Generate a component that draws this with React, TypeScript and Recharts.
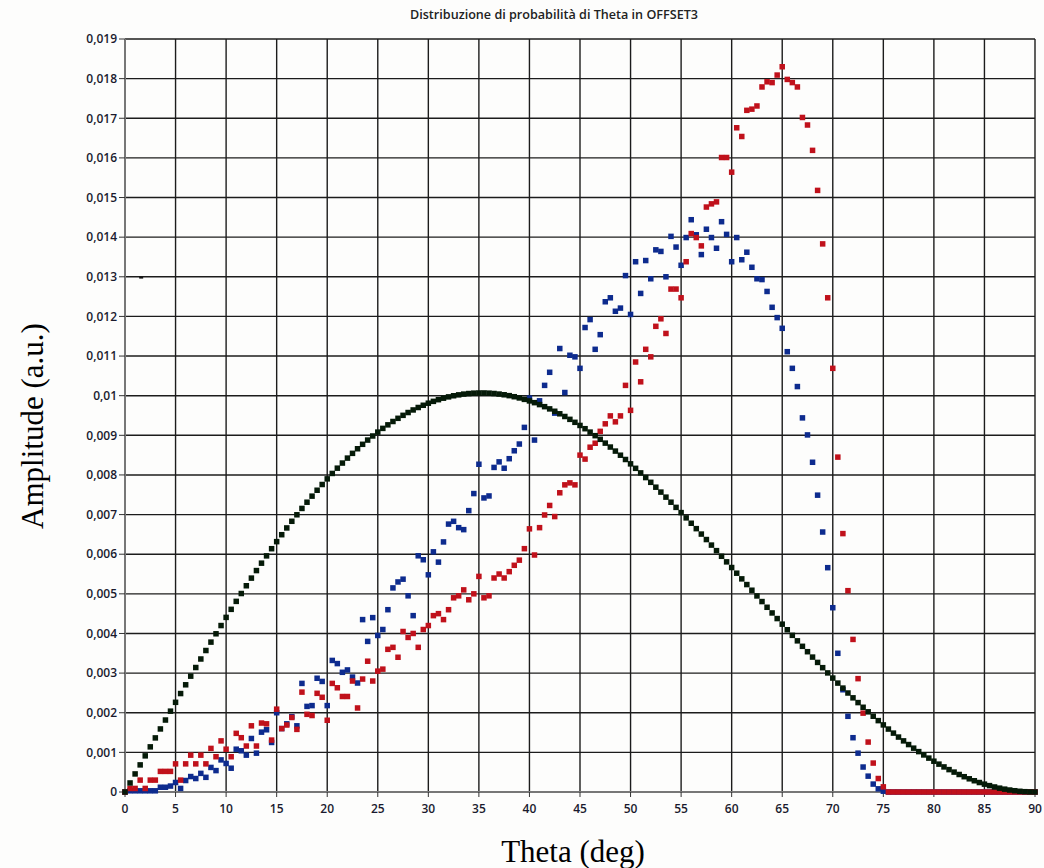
import { ScatterChart, Scatter, XAxis, YAxis, CartesianGrid } from 'recharts';

// angle grid of the measurement (deg)
const theta = [
  0, 0.5, 1, 1.5, 2, 2.5, 3, 3.5, 4, 4.5,
  5, 5.5, 6, 6.5, 7, 7.5, 8, 8.5, 9, 9.5,
  10, 10.5, 11, 11.5, 12, 12.5, 13, 13.5, 14, 14.5,
  15, 15.5, 16, 16.5, 17, 17.5, 18, 18.5, 19, 19.5,
  20, 20.5, 21, 21.5, 22, 22.5, 23, 23.5, 24, 24.5,
  25, 25.5, 26, 26.5, 27, 27.5, 28, 28.5, 29, 29.5,
  30, 30.5, 31, 31.5, 32, 32.5, 33, 33.5, 34, 34.5,
  35, 35.5, 36, 36.5, 37, 37.5, 38, 38.5, 39, 39.5,
  40, 40.5, 41, 41.5, 42, 42.5, 43, 43.5, 44, 44.5,
  45, 45.5, 46, 46.5, 47, 47.5, 48, 48.5, 49, 49.5,
  50, 50.5, 51, 51.5, 52, 52.5, 53, 53.5, 54, 54.5,
  55, 55.5, 56, 56.5, 57, 57.5, 58, 58.5, 59, 59.5,
  60, 60.5, 61, 61.5, 62, 62.5, 63, 63.5, 64, 64.5,
  65, 65.5, 66, 66.5, 67, 67.5, 68, 68.5, 69, 69.5,
  70, 70.5, 71, 71.5, 72, 72.5, 73, 73.5, 74, 74.5,
  75, 75.5, 76, 76.5, 77, 77.5, 78, 78.5, 79, 79.5,
  80, 80.5, 81, 81.5, 82, 82.5, 83, 83.5, 84, 84.5,
  85, 85.5, 86, 86.5, 87, 87.5, 88, 88.5, 89, 89.5,
  90,
];

// black: theoretical curve
const blackAmp = [
  0, 0.000228, 0.000456, 0.000684, 0.000912, 0.001139, 0.001365, 0.001591, 0.001816, 0.00204,
  0.002263, 0.002484, 0.002705, 0.002923, 0.003141, 0.003356, 0.00357, 0.003782, 0.003992, 0.0042,
  0.004406, 0.004609, 0.00481, 0.005008, 0.005204, 0.005397, 0.005587, 0.005774, 0.005958, 0.006139,
  0.006317, 0.006492, 0.006663, 0.006831, 0.006995, 0.007155, 0.007312, 0.007465, 0.007614, 0.007759,
  0.007901, 0.008038, 0.008171, 0.0083, 0.008425, 0.008545, 0.008661, 0.008773, 0.00888, 0.008983,
  0.009081, 0.009175, 0.009264, 0.009349, 0.009429, 0.009504, 0.009575, 0.00964, 0.009702, 0.009758,
  0.00981, 0.009857, 0.009899, 0.009937, 0.00997, 0.009998, 0.010021, 0.01004, 0.010054, 0.010064,
  0.010068, 0.010069, 0.010064, 0.010055, 0.010041, 0.010023, 0.010001, 0.009974, 0.009943, 0.009907,
  0.009868, 0.009824, 0.009775, 0.009723, 0.009667, 0.009607, 0.009543, 0.009475, 0.009403, 0.009328,
  0.009249, 0.009167, 0.009081, 0.008991, 0.008899, 0.008803, 0.008704, 0.008602, 0.008498, 0.00839,
  0.00828, 0.008167, 0.008052, 0.007934, 0.007814, 0.007691, 0.007567, 0.00744, 0.007312, 0.007182,
  0.00705, 0.006917, 0.006781, 0.006645, 0.006508, 0.00637, 0.00623, 0.00609, 0.005948, 0.005807,
  0.005664, 0.005521, 0.005378, 0.005234, 0.005091, 0.004947, 0.004805, 0.004661, 0.004518, 0.004376,
  0.004235, 0.004094, 0.003953, 0.003814, 0.003676, 0.00354, 0.003404, 0.00327, 0.003137, 0.003005,
  0.002875, 0.002748, 0.002622, 0.002498, 0.002376, 0.002256, 0.002138, 0.002023, 0.001911, 0.001801,
  0.001693, 0.001588, 0.001486, 0.001386, 0.00129, 0.001197, 0.001106, 0.001019, 0.000935, 0.000855,
  0.000777, 0.000703, 0.000633, 0.000565, 0.000502, 0.000442, 0.000386, 0.000333, 0.000284, 0.000239,
  0.000198, 0.000161, 0.000127, 0.000097, 0.000072, 0.00005, 0.000032, 0.000018, 0.000008, 0.000002,
  0,
];

// blue: measured
const blueAmp = [
  0, 0.00003, 0.00003, 0.00003, 0.00003, 0.00003, 0.00003, 0.00012, 0.00012, 0.00015,
  0.00024, 0.00009, 0.00029, 0.00039, 0.00034, 0.00047, 0.00037, 0.00062, 0.00054, 0.00081,
  0.00072, 0.0006, 0.00108, 0.00104, 0.00093, 0.00135, 0.00098, 0.00151, 0.00157, 0.00125,
  0.002, 0.0016, 0.00172, 0.0019, 0.00167, 0.00274, 0.00216, 0.00218, 0.00287, 0.00279,
  0.00218, 0.00332, 0.00324, 0.00302, 0.00308, 0.0029, 0.00275, 0.00435, 0.0038, 0.0044,
  0.00395, 0.0041, 0.0046, 0.00515, 0.0053, 0.00537, 0.00495, 0.00445, 0.00596, 0.00586,
  0.00548, 0.00606, 0.0058, 0.00631, 0.00676, 0.00683, 0.00667, 0.00662, 0.0071, 0.00753,
  0.00827, 0.00742, 0.00747, 0.00819, 0.00833, 0.00817, 0.00841, 0.00861, 0.00878, 0.0092,
  0.00994, 0.00888, 0.00987, 0.01026, 0.01059, 0.00956, 0.01119, 0.01008, 0.01102, 0.01098,
  0.01069, 0.01172, 0.01192, 0.01117, 0.01154, 0.01237, 0.01247, 0.01213, 0.01221, 0.01303,
  0.01205, 0.01338, 0.01258, 0.01341, 0.01295, 0.01368, 0.01364, 0.013, 0.01402, 0.01375,
  0.01329, 0.01399, 0.01444, 0.01406, 0.01356, 0.0142, 0.01399, 0.01372, 0.01439, 0.01407,
  0.01338, 0.01399, 0.01343, 0.01362, 0.01324, 0.01295, 0.01293, 0.01263, 0.01223, 0.01197,
  0.0117, 0.01111, 0.01069, 0.01023, 0.00944, 0.00901, 0.00832, 0.00749, 0.00656, 0.00566,
  0.00465, 0.0035, 0.00258, 0.00191, 0.00137, 0.00098, 0.00063, 0.0004, 0.0002, 0.00008,
  0.00002, 0, 0, 0, 0, 0, 0, 0, 0, 0,
  0, 0, 0, 0, 0, 0, 0, 0, 0, 0,
  0, 0, 0, 0, 0, 0, 0, 0, 0, 0,
  0,
];

// red: measured
const redAmp = [
  0, 0.00009, 0.00009, 0.0003, 0.00009, 0.0003, 0.0003, 0.00052, 0.00052, 0.00052,
  0.00071, 0.0003, 0.00071, 0.00093, 0.00071, 0.00093, 0.00071, 0.0011, 0.00089, 0.00129,
  0.00108, 0.00089, 0.00148, 0.00137, 0.00116, 0.00167, 0.00116, 0.00174, 0.00172, 0.00131,
  0.00209, 0.0016, 0.00169, 0.00188, 0.00158, 0.00252, 0.00196, 0.00193, 0.00249, 0.00239,
  0.00181, 0.00274, 0.00263, 0.00241, 0.00241, 0.0028, 0.00212, 0.00285, 0.0033, 0.0028,
  0.00305, 0.0031, 0.0036, 0.00365, 0.0034, 0.00405, 0.0039, 0.004, 0.00365, 0.0041,
  0.0042, 0.00445, 0.0045, 0.00435, 0.0046, 0.0049, 0.00495, 0.0051, 0.00485, 0.005,
  0.00544, 0.0049, 0.00495, 0.0054, 0.0055, 0.0054, 0.00556, 0.00572, 0.00585, 0.00614,
  0.00664, 0.00598, 0.00667, 0.00699, 0.00723, 0.00695, 0.00755, 0.00775, 0.0078, 0.00775,
  0.0085, 0.0084, 0.0087, 0.0088, 0.0091, 0.00929, 0.00949, 0.00934, 0.00949, 0.01026,
  0.00963, 0.01085, 0.01035, 0.01117, 0.01098, 0.01175, 0.01194, 0.01157, 0.01269, 0.01269,
  0.01247, 0.01338, 0.01409, 0.01399, 0.01378, 0.01476, 0.01484, 0.01489, 0.01601, 0.01601,
  0.01564, 0.01676, 0.01654, 0.0172, 0.01723, 0.01731, 0.01779, 0.01792, 0.0179, 0.01809,
  0.0183, 0.01798, 0.0179, 0.01779, 0.01702, 0.01683, 0.01619, 0.01518, 0.01383, 0.01247,
  0.01069, 0.00845, 0.00652, 0.00508, 0.00385, 0.00286, 0.00199, 0.00126, 0.00073, 0.00034,
  0.00013, 0, 0, 0, 0, 0, 0, 0, 0, 0,
  0, 0, 0, 0, 0, 0, 0, 0, 0, 0,
  0, 0, 0, 0, 0, 0, 0, 0, 0, 0,
  0,
];

// stray mark left of the plot near 0,013
const strayTheta = [1.6];
const strayAmp = [0.01298];

const thetaTicks = [0, 5, 10, 15, 20, 25, 30, 35, 40, 45, 50, 55, 60, 65, 70, 75, 80, 85, 90];
const ampTicks = [
  0, 0.001, 0.002, 0.003, 0.004, 0.005, 0.006, 0.007, 0.008, 0.009, 0.01,
  0.011, 0.012, 0.013, 0.014, 0.015, 0.016, 0.017, 0.018, 0.019,
];

const toPoints = (xs: number[], ys: number[]) => xs.map((x, i) => ({ x, y: ys[i] }));

const square = (color: string, w = 5.5, h = 5.5) => (props: any) => {
  const { cx, cy } = props;
  if (cx == null || cy == null) return <g />;
  return <rect x={cx - w / 2} y={cy - h / 2} width={w} height={h} fill={color} />;
};

const fmtAmp = (v: number) => (v === 0 ? '0' : String(+v.toFixed(3)).replace('.', ','));

const tickFont = { fontFamily: '"Open Sans", "Noto Sans", sans-serif', fontSize: 12, fontWeight: 600, fill: '#1a1a2e' };

export default function App() {
  return (
    <div style={{ position: 'absolute', left: 0, top: 0, width: 1044, height: 868, background: '#fdfdfc' }}>
      <div
        style={{
          position: 'absolute', left: 410, top: 6, fontFamily: '"Open Sans", "Noto Sans", sans-serif',
          fontSize: 12.6, fontWeight: 600, color: '#222', whiteSpace: 'nowrap',
        }}
      >
        Distribuzione di probabilità di Theta in OFFSET3
      </div>
      <ScatterChart width={1044} height={868} margin={{ top: 39, right: 9, bottom: 46, left: 0 }}>
        <CartesianGrid stroke="#1c1c1c" strokeWidth={1.4} />
        <XAxis
          type="number"
          dataKey="x"
          domain={[0, 90]}
          ticks={thetaTicks}
          height={30}
          tickSize={5}
          tickMargin={7}
          tick={tickFont}
          axisLine={{ stroke: '#777', strokeWidth: 2 }}
          tickLine={{ stroke: '#333' }}
        />
        <YAxis
          type="number"
          dataKey="y"
          domain={[0, 0.019]}
          ticks={ampTicks}
          width={125}
          tickSize={6}
          tickMargin={2}
          tick={tickFont}
          tickFormatter={fmtAmp}
          axisLine={{ stroke: '#777', strokeWidth: 2 }}
          tickLine={{ stroke: '#333' }}
        />
        <Scatter data={toPoints(theta, blueAmp)} shape={square('#0d2b8e')} isAnimationActive={false} />
        <Scatter data={toPoints(theta, redAmp)} shape={square('#c0111b')} isAnimationActive={false} />
        <Scatter data={toPoints(theta, blackAmp)} shape={square('#051a08')} isAnimationActive={false} />
        <Scatter data={toPoints(strayTheta, strayAmp)} shape={square('#111', 4, 2)} isAnimationActive={false} />
      </ScatterChart>
      <div
        style={{
          position: 'absolute', left: 573, top: 851, transform: 'translate(-50%, -50%)',
          fontFamily: '"Liberation Serif", "Times New Roman", serif', fontSize: 31, color: '#000',
          whiteSpace: 'nowrap', lineHeight: 1,
        }}
      >
        Theta (deg)
      </div>
      <div
        style={{
          position: 'absolute', left: 32, top: 426, transform: 'translate(-50%, -50%) rotate(-90deg)',
          fontFamily: '"Liberation Serif", "Times New Roman", serif', fontSize: 31, color: '#000',
          whiteSpace: 'nowrap', lineHeight: 1,
        }}
      >
        Amplitude (a.u.)
      </div>
    </div>
  );
}
